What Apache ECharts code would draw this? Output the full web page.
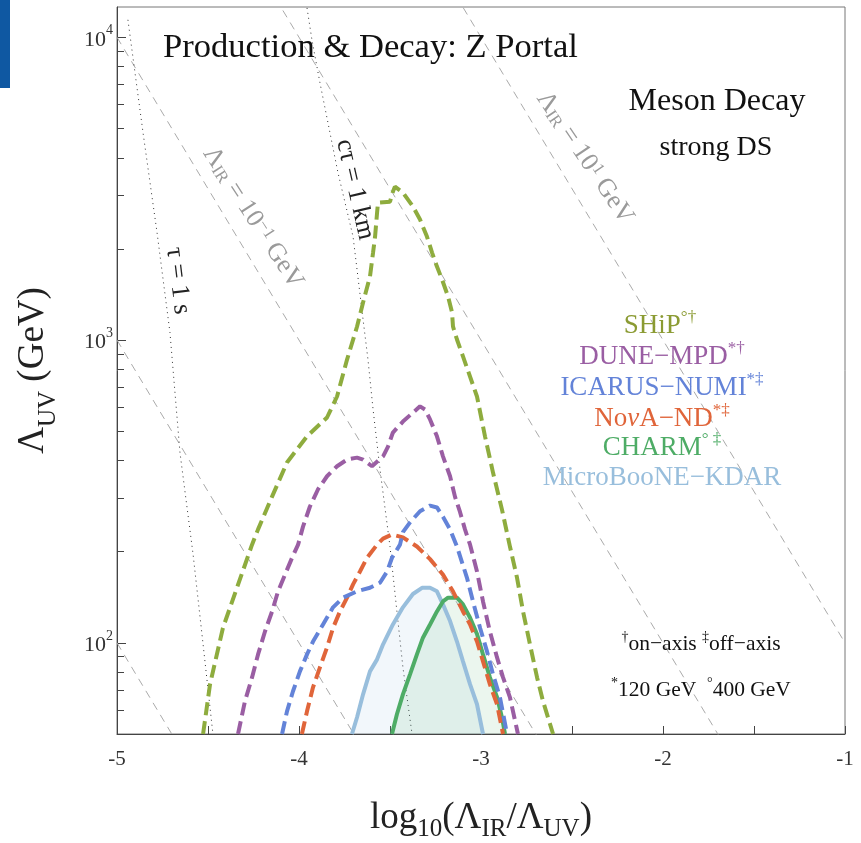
<!DOCTYPE html>
<html><head><meta charset="utf-8">
<script src="https://cdn.jsdelivr.net/npm/echarts@6/dist/echarts.min.js"></script>
<style>html,body{margin:0;padding:0;background:#fff}#c{width:861px;height:843px}</style>
</head><body><div id="c"></div>
<script>
// ---------- data ----------
const shipX = [-4.527,-4.489,-4.418,-4.341,-4.258,-4.225,-4.148,-4.066,-3.956,-3.846,-3.791,-3.736,-3.681,-3.648,-3.610,-3.593,-3.582,-3.571,-3.566,-3.500,-3.484,-3.473,-3.429,-3.374,-3.335,-3.297,-3.269,-3.242,-3.214,-3.181,-3.159,-3.154,-3.132,-3.099,-3.022,-2.978,-2.934,-2.885,-2.841,-2.802,-2.769,-2.731,-2.692,-2.659,-2.604];
const shipY = [50,72.9,112,152,211,237,304,394,481,555,651,862,1109,1330,1622,1945,2197,2636,2843,2865,3090,3212,3069,2760,2500,2197,1945,1749,1585,1393,1233,1109,1004,883,651,481,365,276,208,164,127,98.9,76.9,64.1,50];

const duneX = [-4.335,-4.297,-4.258,-4.225,-4.187,-4.148,-4.115,-4.077,-4.038,-4.005,-3.978,-3.940,-3.896,-3.846,-3.791,-3.736,-3.681,-3.648,-3.599,-3.538,-3.511,-3.484,-3.429,-3.374,-3.335,-3.308,-3.280,-3.242,-3.209,-3.170,-3.143,-3.115,-3.088,-3.060,-3.022,-2.989,-2.951,-2.912,-2.879,-2.841,-2.797];
const duneY = [50,64.1,76.9,91.6,109,127,148,168,191,211,242,282,321,355,383,403,409,403,383,413,445,495,538,576,604,590,547,481,413,355,304,270,237,211,172,137,109,89.5,76.9,66.1,50];

const icarusX = [-4.093,-4.066,-4.033,-3.995,-3.956,-3.923,-3.868,-3.813,-3.758,-3.681,-3.610,-3.555,-3.516,-3.489,-3.445,-3.429,-3.390,-3.335,-3.280,-3.242,-3.209,-3.170,-3.132,-3.077,-3.044,-3.005,-2.967,-2.934,-2.896,-2.857];
const icarusY = [50,59.4,69.2,80.5,91.6,101,115,131,141,148,152,158,172,191,211,232,250,272,284,280,261,237,208,164,137,112,93.7,78.7,66.1,50];

const novaX = [-3.984,-3.956,-3.923,-3.885,-3.846,-3.813,-3.775,-3.736,-3.703,-3.665,-3.626,-3.571,-3.538,-3.489,-3.429,-3.352,-3.280,-3.209,-3.154,-3.099,-3.060,-3.022,-2.989,-2.951,-2.912,-2.879];
const novaY = [50,59.4,71.3,83.0,96.6,112,127,141,156,172,191,211,221,228,223,208,189,168,148,127,115,101,86.9,72.9,62.7,50];

const charmX = [-3.489,-3.462,-3.429,-3.390,-3.352,-3.319,-3.280,-3.242,-3.209,-3.181,-3.132,-3.099,-3.060,-3.022,-2.989,-2.951,-2.912,-2.885,-2.868];
const charmY = [50,58.1,67.6,78.7,91.6,104,115,127,137,141,141,134,121,107,91.6,76.9,66.1,56.8,50];

const microX = [-3.709,-3.681,-3.648,-3.610,-3.571,-3.538,-3.484,-3.429,-3.374,-3.324,-3.280,-3.242,-3.209,-3.170,-3.132,-3.099,-3.060,-3.022,-2.989];
const microY = [50,56.8,67.6,80.5,88.2,98.9,115,131,145,152,152,148,134,118,101,86.9,72.9,62.7,50];

// lifetime contours (dotted)
const tauX = [-4.940,-4.857,-4.780,-4.709,-4.654,-4.582,-4.527,-4.473];
const tauY = [11420,4842,2264,1059,425,196,98.9,50];
const ctauX = [-3.956,-3.929,-3.885,-3.830,-3.786,-3.703,-3.648,-3.621,-3.593,-3.555,-3.500,-3.462,-3.429,-3.379];
const ctauY = [12500,9812,7079,4842,3573,2197,1169,862,590,374,208,127,83.0,50];

// constant Lambda_IR lines (endpoints at x = -5 and x = -1)
const irLineX = [-5, -1];
const irLineY = [[100, 0.01], [1000, 0.1], [10000, 1], [100000, 10], [1000000, 100]];

// axis ticks
const xTickLabels = [-5, -4, -3, -2, -1];
const yMajorTicks = [100, 1000, 10000];
const yMinorTicks = [60,70,80,90,200,300,400,500,600,700,800,900,2000,3000,4000,5000,6000,7000,8000,9000];

// ---------- styles ----------
const SERIF = '"Liberation Serif","Times New Roman",serif';
const C = {
  ship: '#8eac3e', shipText: '#8b9b33', dune: '#9a5ea3', icarus: '#6383d8',
  nova: '#e0653a', charm: '#4eac66', micro: '#98bedc'
};
const pair = (xs, ys) => xs.map((x, i) => [x, ys[i]]);

function curve(name, xs, ys, color, dashed, fill) {
  const s = {
    name, type: 'line', data: pair(xs, ys), showSymbol: false, symbol: 'none',
    silent: true, clip: true, z: 5,
    lineStyle: { color, width: 4, type: dashed ? [13, 6] : 'solid', cap: 'butt' }
  };
  if (fill) s.areaStyle = { color: fill, origin: 'start' };
  return s;
}

const series = [];
irLineY.forEach((ys) => {
  series.push({
    type: 'line', data: pair(irLineX, ys), showSymbol: false, symbol: 'none', silent: true, clip: true, z: 2,
    lineStyle: { color: '#aaaaaa', width: 1, type: [8, 6] }
  });
});
series.push({ type: 'line', data: pair(tauX, tauY), showSymbol: false, symbol: 'none', silent: true, clip: true, z: 2,
  lineStyle: { color: '#333', width: 1, type: [1, 4] } });
series.push({ type: 'line', data: pair(ctauX, ctauY), showSymbol: false, symbol: 'none', silent: true, clip: true, z: 2,
  lineStyle: { color: '#333', width: 1, type: [1, 4] } });

series.push(curve('MicroBooNE-KDAR', microX, microY, C.micro, false, 'rgba(152,190,220,0.18)'));
series.push(curve('CHARM', charmX, charmY, C.charm, false, 'rgba(78,172,102,0.16)'));
series.push(curve('NovA-ND', novaX, novaY, C.nova, true));
series.push(curve('ICARUS-NUMI', icarusX, icarusY, C.icarus, true));
series.push(curve('DUNE-MPD', duneX, duneY, C.dune, true));
series.push(curve('SHiP', shipX, shipY, C.ship, true));

// annotations on the reference lines (placed in data coordinates)
const annRich = {
  a: { fontFamily: SERIF, fontSize: 26, color: '#9a9a9a' },
  b: { fontFamily: SERIF, fontSize: 17, color: '#9a9a9a', verticalAlign: 'bottom', lineHeight: 24 },
  c: { fontFamily: SERIF, fontSize: 17, color: '#9a9a9a', verticalAlign: 'top', lineHeight: 16 },
  k: { fontFamily: SERIF, fontSize: 26, color: '#222' }
};
const annotations = [
  { x: -4.253, y: 2535, rot: -57, text: '{a|Λ}{b|IR}{a| = 10}{c|−1}{a| GeV}' },
  { x: -2.429, y: 4000, rot: -56, text: '{a|Λ}{b|IR}{a| = 10}{c|1}{a| GeV}' },
  { x: -4.665, y: 1571, rot: -83, text: '{k|τ = 1 s}' },
  { x: -3.692, y: 3141, rot: -77, text: '{k|cτ = 1 km}' }
];
series.push({
  type: 'scatter', symbolSize: 1, silent: true, z: 3, itemStyle: { color: 'rgba(0,0,0,0)' },
  data: annotations.map(a => ({
    value: [a.x, a.y],
    label: { show: true, position: 'inside', rotate: a.rot, formatter: a.text, rich: annRich, opacity: 1 }
  }))
});

const supRich = {
  b: { fontFamily: SERIF, fontSize: 22, color: '#333', lineHeight: 27, verticalAlign: 'bottom' },
  s: { fontFamily: SERIF, fontSize: 14, color: '#333', lineHeight: 14, verticalAlign: 'top' }
};

const option = {
  animation: false,
  backgroundColor: '#fff',
  grid: { left: 117, right: 16, top: 7, bottom: 109, containLabel: false, outerBoundsMode: 'none',
    show: true, borderColor: '#777', borderWidth: 1, backgroundColor: 'transparent' },
  xAxis: {
    type: 'value', min: -5, max: -1, interval: 0.5,
    axisLine: { show: true, lineStyle: { color: '#444', width: 1 } },
    axisTick: { show: true, inside: true, length: 8, lineStyle: { color: '#444' } },
    axisLabel: { customValues: xTickLabels, formatter: v => String(Math.round(v)), fontFamily: SERIF, fontSize: 21, color: '#333', margin: 15 },
    splitLine: { show: false },
    name: '{t|log}{s|10}{t|(Λ}{s|IR}{t|/Λ}{s|UV}{t|)}',
    nameLocation: 'middle', nameGap: 66,
    nameTextStyle: { rich: {
      t: { fontFamily: SERIF, fontSize: 37, color: '#222', lineHeight: 42, verticalAlign: 'top' },
      s: { fontFamily: SERIF, fontSize: 25, color: '#222', lineHeight: 42, verticalAlign: 'bottom' }
    } }
  },
  yAxis: [
    {
      type: 'log', logBase: 10, min: 50, max: 12589, position: 'left',
      axisLine: { show: true, lineStyle: { color: '#444', width: 1 } },
      axisTick: { show: true, inside: true, length: 9, customValues: yMajorTicks, lineStyle: { color: '#444' } },
      axisLabel: { customValues: yMajorTicks, margin: 4,
        formatter: v => '{b|10}{s|' + Math.round(Math.log10(v)) + '}', rich: supRich },
      splitLine: { show: false },
      name: '{t|Λ}{s|UV}{t| (GeV)}',
      nameLocation: 'middle', nameGap: 56, nameRotate: 90,
      nameTextStyle: { rich: {
        t: { fontFamily: SERIF, fontSize: 37, color: '#222', lineHeight: 46, verticalAlign: 'top' },
        s: { fontFamily: SERIF, fontSize: 25, color: '#222', lineHeight: 46, verticalAlign: 'bottom' }
      } }
    },
    {
      type: 'log', logBase: 10, min: 50, max: 12589, position: 'left', offset: 0,
      axisLine: { show: false },
      axisTick: { show: true, inside: true, length: 7, customValues: yMinorTicks, lineStyle: { color: '#444' } },
      axisLabel: { show: false },
      splitLine: { show: false }
    }
  ],
  series: series,
  graphic: [
    { type: 'rect', shape: { x: 0, y: 0, width: 10, height: 88 }, style: { fill: '#0f58a2' }, z: 100 },
    { type: 'text', x: 163, y: 48, z: 100, style: { text: 'Production & Decay: Z Portal', fontFamily: SERIF, fontSize: 34.6, fill: '#111', align: 'left', verticalAlign: 'middle' } },
    { type: 'text', x: 717, y: 102, z: 100, style: { text: 'Meson Decay', fontFamily: SERIF, fontSize: 32, fill: '#111', align: 'center', verticalAlign: 'middle' } },
    { type: 'text', x: 716, y: 148, z: 100, style: { text: 'strong DS', fontFamily: SERIF, fontSize: 28, fill: '#111', align: 'center', verticalAlign: 'middle' } },
    legendText(660, 324, '{m|SHiP}{p|°†}', C.shipText),
    legendText(662, 355, '{m|DUNE−MPD}{p|*†}', C.dune),
    legendText(662, 386, '{m|ICARUS−NUMI}{p|*‡}', C.icarus),
    legendText(662, 417, '{m|No}{i|ν}{m|A−ND}{p|*‡}', C.nova),
    legendText(662, 446, '{m|CHARM}{p|° ‡}', C.charm),
    legendText(662, 476, '{m|MicroBooNE−KDAR}', C.micro),
    noteText(701, 643, '{p|†}{m|on−axis }{p|‡}{m|off−axis}'),
    noteText(701, 689, '{p|*}{m|120 GeV  }{p|°}{m|400 GeV}')
  ]
};

function legendText(x, y, text, color) {
  return { type: 'text', x, y, z: 100, style: {
    text, align: 'center', verticalAlign: 'middle',
    rich: {
      m: { fontFamily: SERIF, fontSize: 27, fill: color, lineHeight: 30, verticalAlign: 'bottom' },
      i: { fontFamily: SERIF, fontSize: 27, fontStyle: 'italic', fill: color, lineHeight: 30, verticalAlign: 'bottom' },
      p: { fontFamily: SERIF, fontSize: 17, fill: color, lineHeight: 17, verticalAlign: 'top' }
    }
  } };
}
function noteText(x, y, text) {
  return { type: 'text', x, y, z: 100, style: {
    text, align: 'center', verticalAlign: 'middle',
    rich: {
      m: { fontFamily: SERIF, fontSize: 21.5, fill: '#111', lineHeight: 25, verticalAlign: 'bottom' },
      p: { fontFamily: SERIF, fontSize: 14, fill: '#111', lineHeight: 14, verticalAlign: 'top' }
    }
  } };
}

const chart = echarts.init(document.getElementById('c'));
chart.setOption(option);
</script>
</body></html>
